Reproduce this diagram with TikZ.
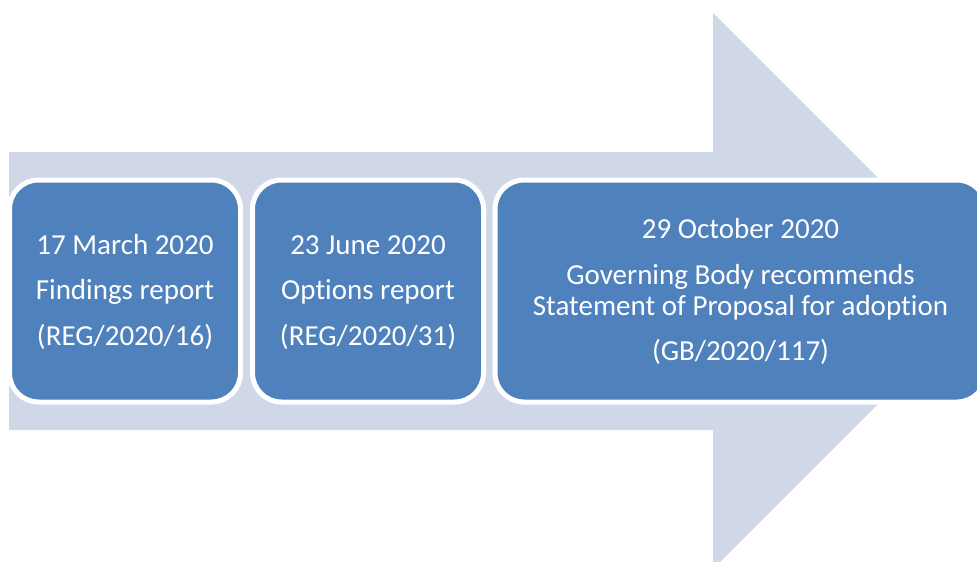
\documentclass[tikz,border=0pt]{standalone}
\usepackage{fontspec}
\setmainfont{Carlito}[Ligatures=NoCommon]
\definecolor{arrowfill}{HTML}{D0D8E8}
\definecolor{boxfill}{HTML}{4F81BD}
\begin{document}
\begin{tikzpicture}[x=1pt,y=-1pt,
  stagebox/.style={draw=white, line width=5pt, fill=boxfill, rounded corners=29pt,
    text=white, align=center, inner sep=0pt, minimum height=222pt,
    font=\fontsize{29}{31}\selectfont},
]
\clip (0,0) rectangle (977,562);
% big background arrow
\fill[arrowfill] (9,152) -- (713,152) -- (713,13) -- (991,291) -- (713,569)
  -- (713,430) -- (9,430) -- cycle;
% stages
\node[stagebox, minimum width=231pt] (march) at (125,291)
  {\rule{0pt}{22pt}17 March 2020\\[14.5pt]Findings report\\[14.5pt](REG/2020/16)};
\node[stagebox, minimum width=231pt] (june) at (368,291)
  {\rule{0pt}{22pt}23 June 2020\\[14.5pt]Options report\\[14.5pt](REG/2020/31)};
\node[stagebox, minimum width=491pt] (october) at (740.5,291)
  {29 October 2020\\[15pt]Governing Body recommends\\Statement of Proposal for adoption\\[14pt](GB/2020/117)};
\end{tikzpicture}
\end{document}
